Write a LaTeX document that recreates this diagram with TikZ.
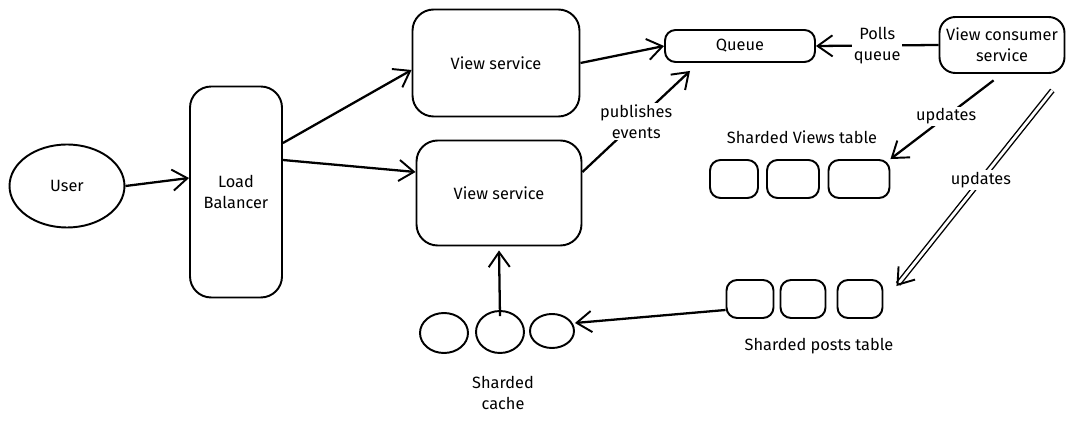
\documentclass[tikz,border=0pt]{standalone}
\usepackage{fontspec}
\setmainfont{Fira Sans}
\usetikzlibrary{arrows.meta,shapes.geometric}
\begin{document}
\begin{tikzpicture}[
            x=0.02cm, y=-0.02cm,
            font=\fontsize{9.3}{12}\selectfont,
            box/.style={draw, line width=1.1pt, rounded corners=12pt, inner sep=0pt, align=center},
            shard/.style={draw, line width=1.1pt, rounded corners=6pt, inner sep=0pt, minimum height=0.76cm},
            cache/.style={draw, ellipse, line width=1.1pt, inner sep=0pt},
            tip/.style={-{Straight Barb[length=8.5pt,width=12pt,line width=1.1pt]}},
            arr/.style={line width=1.3pt, tip},
            lbl/.style={fill=white, inner sep=1pt, align=center}
        ]
            \useasboundingbox (0,0) rectangle (1080,425);
            % 左侧：用户与负载均衡
            \node[cache, minimum width=2.3cm, minimum height=1.66cm] (user) at (67,186) {User};
            \node[box, minimum width=1.84cm, minimum height=4.22cm] (lb) at (236,192) {Load\\Balancer};

            % 两个 View service
            \node[box, minimum width=3.34cm, minimum height=2.14cm] (vs1) at (496,63) {View service};
            \node[box, minimum width=3.3cm, minimum height=2.1cm] (vs2) at (499,193) {View service};

            % 队列与消费者
            \node[box, rounded corners=6pt, minimum width=3cm, minimum height=0.64cm] (queue) at (740,46) {Queue};
            \node[box, rounded corners=9pt, minimum width=2.5cm, minimum height=1.12cm] (consumer) at (1002,45) {View consumer\\service};

            % Sharded Views table
            \node[shard, minimum width=0.96cm] (vt1) at (734,179) {};
            \node[shard, minimum width=1.04cm] (vt2) at (793,179) {};
            \node[shard, minimum width=1.22cm] (vt3) at (859,179) {};
            \node (vtlbl) at (802,137) {Sharded Views table};

            % Sharded posts table
            \node[shard, minimum width=0.94cm] (pt1) at (750,299) {};
            \node[shard, minimum width=0.9cm] (pt2) at (803,299) {};
            \node[shard, minimum width=0.9cm] (pt3) at (860,299) {};
            \node (ptlbl) at (819,346) {Sharded posts table};

            % Sharded cache
            \node[cache, minimum width=0.96cm, minimum height=0.8cm] (c1) at (444,333) {};
            \node[cache, minimum width=0.96cm, minimum height=0.84cm] (c2) at (500,332) {};
            \node[cache, minimum width=0.88cm, minimum height=0.68cm] (c3) at (552,331) {};
            \node[align=center] (clbl) at (503,393) {Sharded\\cache};

            % 连线
            \draw[arr] (user.east) -- ([yshift=0.28cm]lb.west);
            \draw[arr] ([yshift=0.98cm]lb.east) -- ([yshift=-0.14cm]vs1.west);
            \draw[arr] ([yshift=0.64cm]lb.east) -- ([yshift=0.42cm]vs2.west);
            \draw[arr] (vs1.east) -- (queue.west);
            \draw[arr] ([yshift=0.42cm]vs2.east) -- node[lbl] {publishes\\events} ([xshift=-1cm,yshift=-0.16cm]queue.south);
            \draw[arr] (consumer.west) -- node[lbl] {Polls\\queue} (queue.east);
            \draw[arr, shorten <=6pt] (consumer.south) -- node[lbl] {updates} (vt3.north east);
            \draw[line width=0.8pt, double, double distance=1.6pt, shorten <=12pt, tip]
                (consumer.south east) -- node[lbl] {updates} ([xshift=0.26cm,yshift=-0.14cm]pt3.north east);
            \draw[arr] ([yshift=-0.22cm]pt1.west) -- ([yshift=0.16cm]c3.east);
            \draw[arr] ([yshift=-0.12cm]c2.north) -- ([yshift=-0.08cm]vs2.south);

        \end{tikzpicture}
\end{document}
